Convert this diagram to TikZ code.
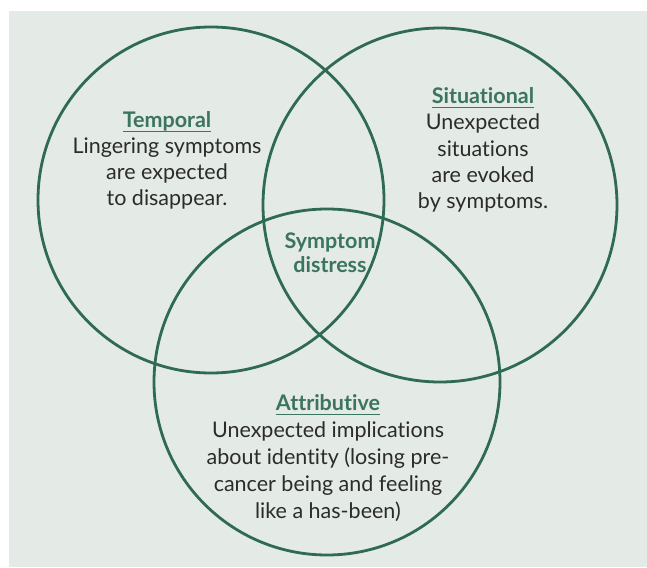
\documentclass[tikz,border=0pt]{standalone}
\usepackage{fontspec}
\setmainfont{Lato}[Ligatures=NoCommon]
\definecolor{bg}{HTML}{E4EAE6}
\definecolor{ring}{HTML}{2F6A52}
\definecolor{head}{HTML}{3B7560}
\definecolor{bodytext}{HTML}{2B2B2B}
\newcommand\hdr[1]{{\bfseries\color{head}\setbox0\hbox{#1}\rlap{\rule[-4.5pt]{\wd0}{1.4pt}}\box0}}
\begin{document}
\begin{tikzpicture}[x=1pt,y=-1pt,
  ringc/.style={circle,draw=ring,line width=2.8pt,inner sep=0pt},
  txt/.style={align=center,text=bodytext,font=\fontsize{21.5}{26}\selectfont,inner sep=0pt}]
\useasboundingbox (0,0) rectangle (647,567);
\fill[bg] (9,11) rectangle (647,567);
\node[ringc,minimum size=346pt] (temporal) at (211,200) {};
\node[ringc,minimum size=354pt] (situational) at (440,205) {};
\node[ringc,minimum size=346pt] (attributive) at (327,382) {};
\node[txt] (ttext) at (167,160.5) {\hdr{Temporal}\\Lingering symptoms\\are expected\\to disappear.};
\node[txt,font=\fontsize{21.5}{26.3}\selectfont] (stext) at (483,150) {\hdr{Situational}\\Unexpected\\situations\\are evoked\\by symptoms.};
\node[txt,text=head,font=\bfseries\fontsize{21.5}{24}\selectfont] (center) at (330,253) {Symptom\\distress};
\node[txt,font=\fontsize{21.5}{27}\selectfont] (atext) at (328,458) {\hdr{Attributive}\\Unexpected implications\\about identity (losing pre-\\cancer being and feeling\\like a has-been)};
\end{tikzpicture}
\end{document}
